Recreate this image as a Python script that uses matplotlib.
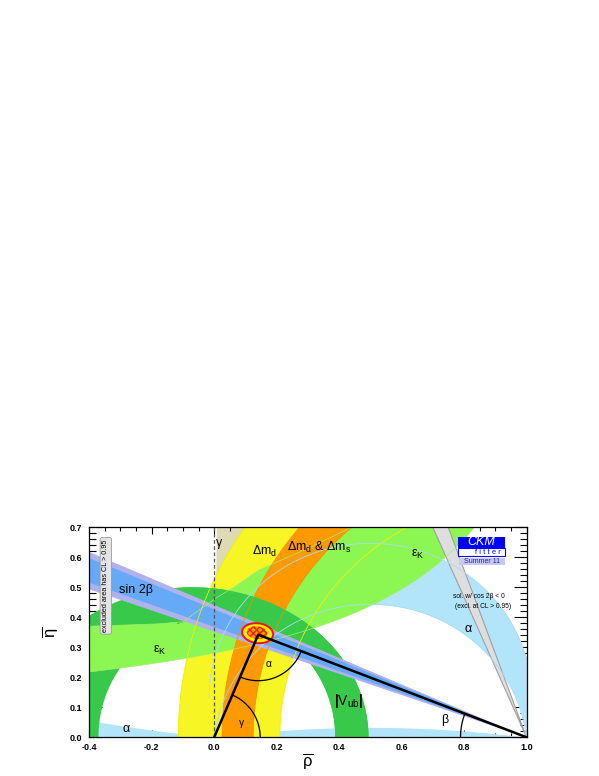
import numpy as np
import matplotlib.pyplot as plt
from matplotlib.patches import Wedge, Ellipse, Rectangle, Polygon

plt.rcParams['mathtext.fontset'] = 'custom'
plt.rcParams['mathtext.rm'] = 'Liberation Sans'
plt.rcParams['mathtext.it'] = 'Liberation Sans:italic'
plt.rcParams['mathtext.bf'] = 'Liberation Sans:bold'
plt.rcParams['font.family'] = ['Liberation Sans', 'DejaVu Sans']

# ---- values ----
apex = (0.141, 0.342)              # rho-bar, eta-bar of the triangle apex
gamma_deg = [52.0, 89.3]           # gamma wedge, seen from (0,0)
dmd_rx = [0.79, 1.115]             # Delta m_d ring around (1,0)
dmd_ry = [0.80, 1.19]
dms_rx = [0.875, 0.975]            # Delta m_d & Delta m_s ring around (1,0)
dms_ry = [0.91, 1.05]
vub_c = [0.0085, -0.07]            # |Vub| ring: centres of inner / outer edge
vub_rx = [0.379, 0.564]
vub_ry = [0.40, 0.50]
epsk_a = 1.39                      # eps_K lower edge: eta = k / (a - rho)
epsk_k = 0.39
epsk_up_rho = [-0.4, -0.18, -0.1, 0.0, 0.07, 0.142, 0.3, 0.44, 0.5]   # eps_K upper edge
epsk_up_eta = [0.37, 0.378, 0.385, 0.46, 0.505, 0.557, 0.63, 0.70, 0.76]
sin2b_deg = [19.4, 23.8]           # sin 2beta wedge from (1,0), outer
sin2b_core = [20.2, 23.1]          # inner (darker) part
cos2b_deg = [66.8, 70.3]           # solution with cos 2beta < 0
alpha_yc = [-0.06, 0.13]           # alpha circles through (0,0),(1,0): centre (0.5, yc)
alpha_low_yc = [5.0, -3.77]        # alpha ~ 180 deg solutions

xticks = [-0.4, -0.2, 0.0, 0.2, 0.4, 0.6, 0.8, 1.0]
yticks = [0.0, 0.1, 0.2, 0.3, 0.4, 0.5, 0.6, 0.7]

c_gamma = '#dedab4'
c_yellow = '#f7f524'
c_orange = '#ff9900'
c_lgreen = '#8cf752'
c_dgreen = '#38c84a'
c_blue = '#66aaf7'
c_lav = '#b0b2ee'
c_lblue = '#b2e4fa'
c_gray = '#dedede'

fig = plt.figure(figsize=(5.99, 7.76), dpi=100)
ax = fig.add_axes([0.149, 0.0499, 0.730, 0.2706])
ax.set_xlim(-0.4, 1.0)
ax.set_ylim(0.0, 0.7)

kx = 5.99 * 100 * 0.730 / 1.4
ky = 7.76 * 100 * 0.2706 / 0.7

t = np.linspace(0, np.pi, 400)


def circ_up(yc, x):
    R = np.sqrt(0.25 + yc ** 2)
    return yc + np.sqrt(np.clip(R ** 2 - (x - 0.5) ** 2, 0, None))


def circ_dn(yc, x):
    R = np.sqrt(0.25 + yc ** 2)
    return yc - np.sqrt(np.clip(R ** 2 - (x - 0.5) ** 2, 0, None))


def ring(cx_in, cx_out, rx, ry, color, z):
    xo = cx_out - rx[1] * np.cos(t)
    yo = ry[1] * np.sin(t)
    xi = cx_in - rx[0] * np.cos(t[::-1])
    yi = ry[0] * np.sin(t[::-1])
    pts = np.column_stack([np.r_[xo, xi], np.r_[yo, yi]])
    p = Polygon(pts, closed=True, facecolor=color, edgecolor='none', zorder=z)
    ax.add_patch(p)
    return p


# gamma
ax.add_patch(Wedge((0, 0), 1.0, gamma_deg[0], gamma_deg[1], color=c_gamma, lw=0, zorder=1))

# alpha
R_in = np.sqrt(0.25 + alpha_yc[0] ** 2)
xa = np.linspace(0.5 - R_in, 1.0, 400)
ax.fill_between(xa, np.where(xa < 0, 0, circ_up(alpha_yc[0], xa)), circ_up(alpha_yc[1], xa),
                color=c_lblue, lw=0, zorder=2)
xl = np.linspace(-0.4, 0, 100)
ax.fill_between(xl, 0, circ_dn(alpha_low_yc[0], xl), color=c_lblue, lw=0, zorder=2)
xm = np.linspace(0, 1, 200)
ax.fill_between(xm, 0, circ_up(alpha_low_yc[1], xm), color=c_lblue, lw=0, zorder=2)

# Delta m_d
ring(1.0, 1.0, dmd_rx, dmd_ry, c_yellow, 3)

# |Vub| (left part lies under eps_K)
ring(vub_c[0], vub_c[1], vub_rx, vub_ry, c_dgreen, 4)

# eps_K
xk = np.linspace(1.0, -0.4, 300)
ek_pts = np.r_[np.column_stack([epsk_up_rho, epsk_up_eta]), [[1.0, 0.76]],
               np.column_stack([xk, epsk_k / (epsk_a - xk)])]
ax.add_patch(Polygon(ek_pts, closed=True, facecolor=c_lgreen, edgecolor='none', zorder=5))

# Delta m_s
ring(1.0, 1.0, dms_rx, dms_ry, c_orange, 6)

# |Vub| again on top of the bands on the right-hand side
p = ring(vub_c[0], vub_c[1], vub_rx, vub_ry, c_dgreen, 6.5)
p.set_clip_path(Rectangle((-0.12, 0), 2, 1, transform=ax.transData))

# sin 2beta
ax.add_patch(Wedge((1, 0), 2.0, 180 - sin2b_deg[1], 180 - sin2b_deg[0], color=c_lav, lw=0, zorder=7))
ax.add_patch(Wedge((1, 0), 2.0, 180 - sin2b_core[1], 180 - sin2b_core[0], color=c_blue, lw=0, zorder=7))

# cos 2beta < 0
ax.add_patch(Wedge((1, 0), 1.0, 180 - cos2b_deg[1], 180 - cos2b_deg[0], facecolor=c_gray,
                   edgecolor='#a0a0a0', lw=0.8, zorder=8))

# thin outlines of the bands
for rx, ry in zip(dmd_rx, dmd_ry):
    ax.plot(1 - rx * np.cos(t), ry * np.sin(t), color='#f0f000', lw=0.6, zorder=9)
for rx, ry in zip(dms_rx, dms_ry):
    ax.plot(1 - rx * np.cos(t), ry * np.sin(t), color='#f09000', lw=0.5, zorder=9)
ax.plot(xk, epsk_k / (epsk_a - xk), color='#a0f070', lw=0.5, zorder=9)
ax.plot(epsk_up_rho, epsk_up_eta, color='#a0f070', lw=0.5, zorder=9)
for yc in alpha_yc:
    xx = np.linspace(0.5 - np.sqrt(0.25 + yc ** 2), 1.0, 300)
    ax.plot(xx, circ_up(yc, xx), color='#a8dcf5', lw=0.6, zorder=9)

ax.axvline(0.0, color='#555555', ls=(0, (3, 2)), lw=0.9, zorder=9)

# apex region
ax.add_patch(Ellipse((0.139, 0.347), 0.10, 0.066, angle=-8, facecolor='#ffee00',
                     edgecolor='#ff1010', lw=1.4, zorder=10))
ax.add_patch(Ellipse((0.137, 0.349), 0.066, 0.042, angle=-8, facecolor='#ff9900',
                     edgecolor='#ee2200', hatch='xxxxx', lw=0, zorder=10))

# triangle
ax.plot([0, apex[0], 1], [0, apex[1], 0], color='k', lw=1.8, zorder=11)


def angle_arc(c, p1, p2, rp):
    a1 = np.arctan2((p1[1] - c[1]) * ky, (p1[0] - c[0]) * kx)
    a2 = np.arctan2((p2[1] - c[1]) * ky, (p2[0] - c[0]) * kx)
    if a2 < a1:
        a2 += 2 * np.pi
    tt = np.linspace(a1, a2, 80)
    ax.plot(c[0] + rp * np.cos(tt) / kx, c[1] + rp * np.sin(tt) / ky, color='k', lw=0.9, zorder=11)


angle_arc((0, 0), (1, 0), apex, 46)
angle_arc(apex, (0, 0), (1, 0), 46)
angle_arc((1, 0), apex, (-1, 0), 66)

# labels
lab = dict(zorder=12, ha='center', va='center', fontsize=9)
ax.text(0.016, 0.648, 'γ', **lab)
ax.text(0.161, 0.618, r'$\mathrm{Δm_d}$', **lab)
ax.text(0.336, 0.634, r'$\mathrm{Δm_d}$ & $\mathrm{Δm_s}$', **lab)
ax.text(0.651, 0.611, r'$\mathrm{ε_K}$', **lab)
ax.text(-0.174, 0.29, r'$\mathrm{ε_K}$', **lab)
ax.text(-0.252, 0.49, 'sin 2β', **lab)
ax.text(0.814, 0.36, 'α', **lab)
ax.text(-0.281, 0.029, 'α', **lab)
ax.text(0.43, 0.122, r'$\mathbf{|}\mathrm{V_{ub}}\mathbf{|}$', zorder=12, ha='center', va='center', fontsize=10)
ax.text(0.739, 0.058, 'β', **lab)
ax.text(0.089, 0.049, 'γ', zorder=12, ha='center', va='center', fontsize=7.5)
ax.text(0.174, 0.245, 'α', zorder=12, ha='center', va='center', fontsize=7.5)
ax.text(0.765, 0.468, 'sol. w/ cos 2β < 0', fontsize=4.8, ha='left', va='center', zorder=12)
ax.text(0.770, 0.437, '(excl. at CL > 0.95)', fontsize=4.8, ha='left', va='center', zorder=12)
ax.text(-0.347, 0.505, 'excluded area has CL > 0.95', rotation=90, fontsize=5.2, ha='center', va='center',
        zorder=12, bbox=dict(boxstyle='round,pad=0.3', facecolor='#e4e4e4', edgecolor='#999999', lw=0.6))

# CKMfitter logo
ax.add_patch(Rectangle((0.781, 0.631), 0.151, 0.037, facecolor='#0000ff', edgecolor='none', zorder=12))
ax.text(0.856, 0.650, 'CKM', color='white', fontsize=9, style='italic', ha='center', va='center', zorder=13)
ax.add_patch(Rectangle((0.781, 0.605), 0.151, 0.026, facecolor='white', edgecolor='#0000ff', lw=0.8, zorder=12))
ax.text(0.875, 0.617, 'f i t t e r', color='#0000ff', fontsize=5.5, ha='center', va='center', zorder=13)
ax.add_patch(Rectangle((0.784, 0.574), 0.148, 0.025, facecolor='#c8c8f2', edgecolor='none', zorder=12))
ax.text(0.858, 0.586, 'Summer 11', color='#2020c0', fontsize=5, ha='center', va='center', zorder=13)

# axes style
ax.set_xticks(xticks)
ax.set_yticks(yticks)
ax.set_xticks(np.arange(-0.4, 1.001, 0.05), minor=True)
ax.set_yticks(np.arange(0.0, 0.701, 0.02), minor=True)
ax.set_xticklabels(['%.1f' % v for v in xticks], fontweight='bold', fontsize=6.5)
ax.set_yticklabels(['%.1f' % v for v in yticks], fontweight='bold', fontsize=6.5)
ax.tick_params(axis='both', which='both', direction='in', top=True, right=True, width=0.8, zorder=14)
ax.tick_params(axis='y', which='major', length=9.5, pad=5)
ax.tick_params(axis='y', which='minor', length=4.7)
ax.tick_params(axis='x', which='major', length=5.2, pad=4)
ax.tick_params(axis='x', which='minor', length=2.6)
for s in ax.spines.values():
    s.set_linewidth(0.9)
    s.set_zorder(15)

fig.text(308 / 599, 1 - 761 / 776, r'$\overline{\mathrm{ρ}}$', fontsize=12, ha='center', va='center')
fig.text(50 / 599, 1 - 632 / 776, r'$\overline{\mathrm{η}}$', fontsize=12, ha='center', va='center', rotation=90)

fig.savefig('out.png', dpi=100)
